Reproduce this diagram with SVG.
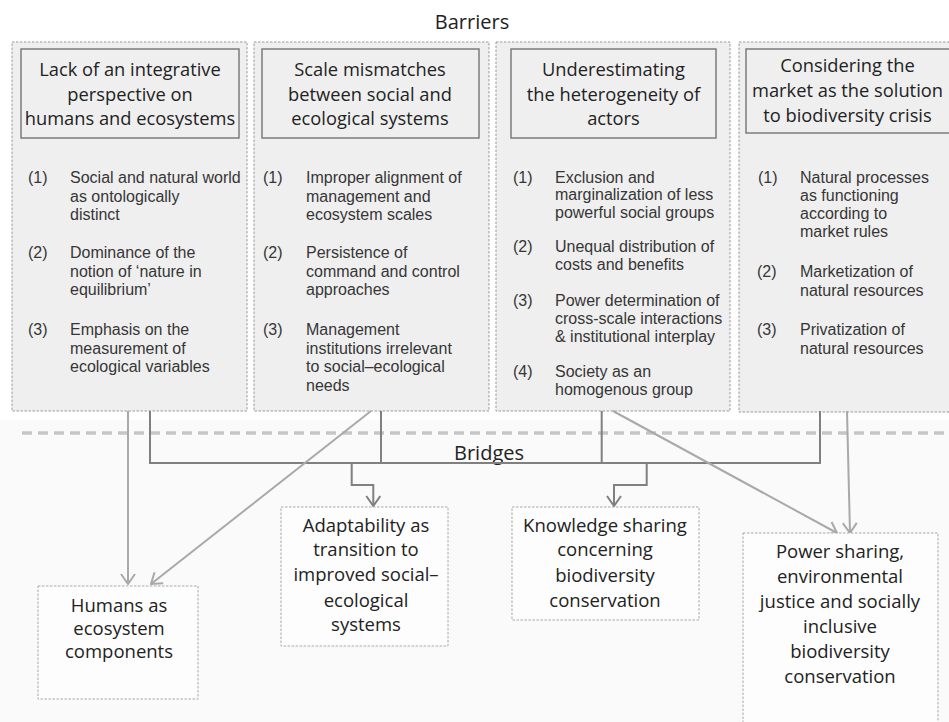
<svg xmlns="http://www.w3.org/2000/svg" width="949" height="722" viewBox="0 0 949 722">
<defs>
<style>
.col{fill:#efefef;stroke:#9a9a9a;stroke-width:1;stroke-dasharray:2.5 1.5}
.hdr{fill:#efefef;stroke:#7c7c7c;stroke-width:1.5}
.ht{font-family:"Open Sans",sans-serif;font-size:18.3px;fill:#222;text-anchor:middle}
.lt{font-family:"Liberation Sans",Arial,sans-serif;font-size:16px;fill:#363636}
.bx{fill:#fdfdfd;stroke:#a8a8a8;stroke-width:1;stroke-dasharray:2.5 1.5}
.bt{font-family:"Open Sans",sans-serif;font-size:18.5px;fill:#222;text-anchor:middle}
.lbl{font-family:"Open Sans",sans-serif;font-size:20px;fill:#222;text-anchor:middle}
.lnL{fill:none;stroke:#a9a9a9;stroke-width:2}
.lnD{fill:none;stroke:#808080;stroke-width:2}
</style>
<marker id="aL" viewBox="0 0 12 16" refX="11" refY="8" markerWidth="12" markerHeight="16" markerUnits="userSpaceOnUse" orient="auto">
<path d="M1,1 L11,8 L1,15" fill="none" stroke="#a9a9a9" stroke-width="2"/>
</marker>
<marker id="aD" viewBox="0 0 12 16" refX="11" refY="8" markerWidth="12" markerHeight="16" markerUnits="userSpaceOnUse" orient="auto">
<path d="M1,1 L11,8 L1,15" fill="none" stroke="#808080" stroke-width="2"/>
</marker>
<filter id="blur" x="-5%" y="-200%" width="110%" height="500%">
<feGaussianBlur stdDeviation="2"/>
</filter>
</defs>
<rect x="0" y="0" width="949" height="722" fill="#ffffff"/>
<rect x="0" y="420" width="949" height="302" fill="#fafafa"/>

<text class="lbl" x="472" y="29">Barriers</text>

<g id="col1">
<rect class="col" x="12" y="42" width="235" height="369"/>
<rect class="hdr" x="21" y="49" width="218" height="89"/>
<text class="ht" x="130" y="76">Lack of an integrative</text>
<text class="ht" x="130" y="100.5">perspective on</text>
<text class="ht" x="130" y="125">humans and ecosystems</text>
<g class="lt">
<text x="28" y="183">(1)</text>
<text x="70" y="183">Social and natural world</text>
<text x="70" y="201.7">as ontologically</text>
<text x="70" y="220.4">distinct</text>
<text x="28" y="258">(2)</text>
<text x="70" y="258">Dominance of the</text>
<text x="70" y="276.7">notion of ‘nature in</text>
<text x="70" y="295.4">equilibrium’</text>
<text x="28" y="335">(3)</text>
<text x="70" y="335">Emphasis on the</text>
<text x="70" y="353.7">measurement of</text>
<text x="70" y="372.4">ecological variables</text>
</g>
</g>

<g id="col2">
<rect class="col" x="254" y="42" width="235" height="369"/>
<rect class="hdr" x="262" y="49" width="217" height="89"/>
<text class="ht" x="370" y="76">Scale mismatches</text>
<text class="ht" x="370" y="100.5">between social and</text>
<text class="ht" x="370" y="125">ecological systems</text>
<g class="lt">
<text x="263" y="183">(1)</text>
<text x="306" y="183">Improper alignment of</text>
<text x="306" y="201.7">management and</text>
<text x="306" y="220.4">ecosystem scales</text>
<text x="263" y="258">(2)</text>
<text x="306" y="258">Persistence of</text>
<text x="306" y="276.7">command and control</text>
<text x="306" y="295.4">approaches</text>
<text x="263" y="335">(3)</text>
<text x="306" y="335">Management</text>
<text x="306" y="353.7">institutions irrelevant</text>
<text x="306" y="372.4">to social–ecological</text>
<text x="306" y="391.1">needs</text>
</g>
</g>

<g id="col3">
<rect class="col" x="496" y="42" width="234" height="369"/>
<rect class="hdr" x="511" y="49" width="205" height="89"/>
<text class="ht" x="613.5" y="76">Underestimating</text>
<text class="ht" x="613.5" y="100.5">the heterogeneity of</text>
<text class="ht" x="613.5" y="125">actors</text>
<g class="lt">
<text x="513" y="182.5">(1)</text>
<text x="555" y="182.5">Exclusion and</text>
<text x="555" y="200">marginalization of less</text>
<text x="555" y="217.5">powerful social groups</text>
<text x="513" y="252">(2)</text>
<text x="555" y="252">Unequal distribution of</text>
<text x="555" y="270">costs and benefits</text>
<text x="513" y="306">(3)</text>
<text x="555" y="306">Power determination of</text>
<text x="555" y="324">cross-scale interactions</text>
<text x="555" y="342">&amp; institutional interplay</text>
<text x="513" y="377">(4)</text>
<text x="555" y="377">Society as an</text>
<text x="555" y="395">homogenous group</text>
</g>
</g>

<g id="col4">
<rect class="col" x="739" y="42" width="220" height="370"/>
<rect class="hdr" x="746" y="49" width="210" height="84"/>
<text class="ht" x="847.5" y="72">Considering the</text>
<text class="ht" x="847.5" y="97.3">market as the solution</text>
<text class="ht" x="847.5" y="122.3">to biodiversity crisis</text>
<g class="lt">
<text x="758" y="183">(1)</text>
<text x="800" y="183">Natural processes</text>
<text x="800" y="201">as functioning</text>
<text x="800" y="219">according to</text>
<text x="800" y="237">market rules</text>
<text x="757" y="277">(2)</text>
<text x="800" y="277">Marketization of</text>
<text x="800" y="295.5">natural resources</text>
<text x="757" y="335">(3)</text>
<text x="800" y="335">Privatization of</text>
<text x="800" y="353.5">natural resources</text>
</g>
</g>

<g id="divider">
<line x1="22" y1="436" x2="949" y2="436" stroke="#d0d0d0" stroke-width="5" stroke-dasharray="10 6" filter="url(#blur)"/>
<line x1="22" y1="433" x2="949" y2="433" stroke="#c6c6c6" stroke-width="3.5" stroke-dasharray="10 6"/>
</g>

<text class="lbl" x="489" y="460">Bridges</text>

<g id="connectors">
<path class="lnD" d="M150,411 V463 H820 V411"/>
<path class="lnD" d="M381,411 V463"/>
<path class="lnD" d="M601.7,411 V463"/>
<path class="lnD" d="M351.7,463 V485 H373.3 V506" marker-end="url(#aD)"/>
<path class="lnD" d="M646.7,463 V485 H614 V506" marker-end="url(#aD)"/>
<path class="lnL" d="M128,411 V584" marker-end="url(#aL)"/>
<path class="lnL" d="M371,411 L151,584" marker-end="url(#aL)"/>
<path class="lnL" d="M613,411 L837,533" marker-end="url(#aL)"/>
<path class="lnL" d="M847,411 L850,533" marker-end="url(#aL)"/>
</g>

<g id="humans">
<rect class="bx" x="38" y="586" width="160" height="113"/>
<text class="bt" x="119" y="611.7">Humans as</text>
<text class="bt" x="119" y="635">ecosystem</text>
<text class="bt" x="119" y="658.3">components</text>
</g>

<g id="adaptability">
<rect class="bx" x="281" y="507" width="167" height="139"/>
<text class="bt" x="366" y="531.7">Adaptability as</text>
<text class="bt" x="366" y="556">transition to</text>
<text class="bt" x="366" y="581">improved social–</text>
<text class="bt" x="366" y="606.7">ecological</text>
<text class="bt" x="366" y="630.7">systems</text>
</g>

<g id="knowledge">
<rect class="bx" x="512" y="507" width="187" height="113"/>
<text class="bt" x="605" y="531.7">Knowledge sharing</text>
<text class="bt" x="605" y="556">concerning</text>
<text class="bt" x="605" y="581.5">biodiversity</text>
<text class="bt" x="605" y="606.7">conservation</text>
</g>

<g id="power">
<rect class="bx" x="743" y="533" width="195" height="200"/>
<text class="bt" x="840" y="558.3">Power sharing,</text>
<text class="bt" x="840" y="583.3">environmental</text>
<text class="bt" x="840" y="608.3">justice and socially</text>
<text class="bt" x="840" y="633.3">inclusive</text>
<text class="bt" x="840" y="658.3">biodiversity</text>
<text class="bt" x="840" y="683.3">conservation</text>
</g>
</svg>
